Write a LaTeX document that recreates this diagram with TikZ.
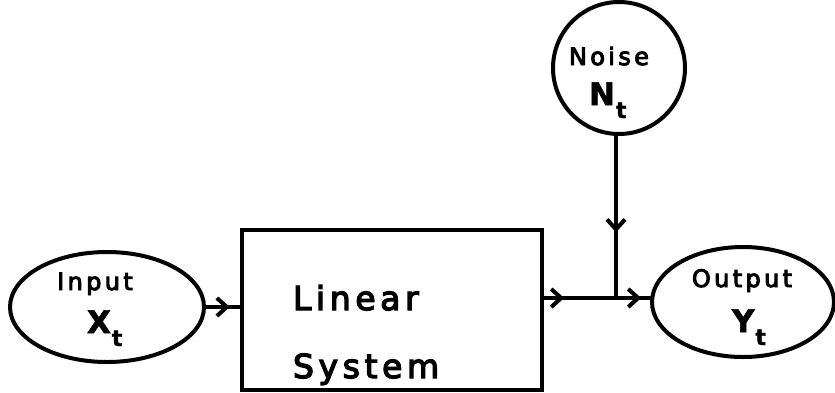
\documentclass[tikz,border=0pt]{standalone}
\usepackage{fontspec}
\setmainfont{DejaVu Sans}
\newfontfamily\lett[LetterSpace=14,FakeBold=4]{DejaVu Sans}
\newfontfamily\varf[FakeBold=2]{DejaVu Sans Bold}
\usetikzlibrary{shapes.geometric,arrows.meta,decorations.markings}
\begin{document}
\begin{tikzpicture}[x=0.5pt,y=-0.5pt, line width=2pt,
  every node/.style={inner sep=0pt, outer sep=0pt},
  oval/.style={draw, ellipse, line width=2pt},
  lbl/.style={font=\lett\fontsize{12}{14}\selectfont, anchor=base},
  var/.style={font=\varf\fontsize{15.5}{17}\selectfont, anchor=base west},
  big/.style={font=\lett\fontsize{16.5}{20}\selectfont, anchor=base west},
  chev/.style={postaction={decorate, decoration={markings,
      mark=at position #1 with {\arrow{Straight Barb[length=5pt,width=9pt,line width=2pt]}}}}}
]
\useasboundingbox (0,0) rectangle (835,392);

% shapes
\node[oval, minimum width=97pt, minimum height=55pt] (in) at (107,307) {};
\node[draw, rectangle, minimum width=150pt, minimum height=80pt] (sys) at (392,310) {};
\node[draw, circle, minimum size=66pt] (noise) at (619,68) {};
\node[oval, minimum width=91pt, minimum height=55pt] (out) at (743,302) {};
\coordinate (j) at (616,298);

% texts
\node[lbl] (tin) at (95,290) {Input};
\node[var] (xin) at (87,333) {X\kern0.5pt\raisebox{-6.5pt}{\fontsize{11}{12}\selectfont t}};
\node[big] (t1) at (293,310) {Linear};
\node[big] (t2) at (293,378) {System};
\node[lbl] (tno) at (609,65) {Noise};
\node[var] (nno) at (589,105) {N\kern0.5pt\raisebox{-6.5pt}{\fontsize{11}{12}\selectfont t}};
\node[lbl] (tout) at (742,287) {Output};
\node[var] (yout) at (732,332) {Y\kern0.5pt\raisebox{-6.5pt}{\fontsize{11}{12}\selectfont t}};

% connectors
\draw[chev=0.68] (in.east) -- (in.east -| sys.west);
\draw[chev=0.6] (noise.south -| j) -- (j);
\draw[chev=0.3] (j -| sys.east) -- (j);
\draw[chev=0.7] (j) -- (j -| out.west);
\end{tikzpicture}
\end{document}
